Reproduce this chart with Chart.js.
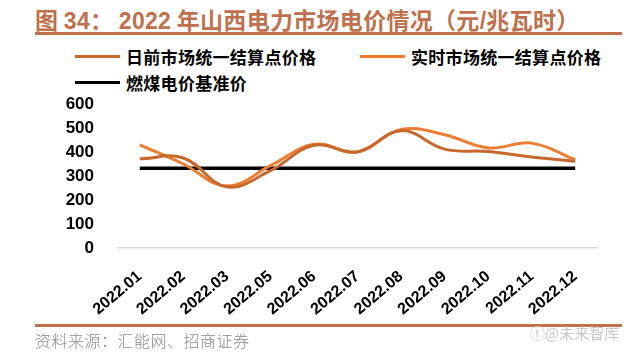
<!DOCTYPE html>
<html>
<head>
<meta charset="utf-8">
<script src="https://cdn.jsdelivr.net/npm/chart.js@4"></script>
<style>
	body { margin: 0; width: 640px; height: 352px; background: #fff; position: relative; overflow: hidden; font-family: 'Noto Sans CJK SC', sans-serif; }
	.title { position: absolute; left: 35px; top: 2px; font-size: 23px; font-weight: 700; color: #c0704c; white-space: nowrap; letter-spacing: 0.3px; }
	.title .num { font-family: 'Liberation Sans', Arial, sans-serif; }
	.rule { position: absolute; left: 35px; width: 587px; height: 3px; background: #c0704c; }
	.legend-item { position: absolute; display: flex; align-items: center; font-size: 17px; font-weight: 700; color: #000; white-space: nowrap; letter-spacing: 0.3px; }
	.legend-item .swatch { width: 45px; height: 3px; margin-right: 6px; }
	.source { position: absolute; left: 35px; top: 328px; font-size: 16px; font-weight: 300; color: #8a8a8a; letter-spacing: 0.5px; }
	.mark { position: absolute; left: 530px; top: 322px; font-size: 15px; color: #c8c8c8; }
	#wrap { position: absolute; left: 0; top: 90px; width: 640px; height: 235px; }
</style>
</head>
<body>
<div class="title">图 <span class="num">34</span>：&nbsp;<span class="num">2022</span> 年山西电力市场电价情况（元<span class="num">/</span>兆瓦时）</div>
<div class="rule" style="top: 32px;"></div>

<div id="legend"></div>

<div id="wrap"><canvas id="priceChart"></canvas></div>

<div class="rule" style="top: 324px;"></div>
<div class="source">资料来源：汇能网、招商证券</div>
<div class="mark">ⓣ@未来智库</div>

<script>
// Months shown on the x axis (no 2022.04 in the source)
const months = ['2022.01', '2022.02', '2022.03', '2022.05', '2022.06', '2022.07', '2022.08', '2022.09', '2022.10', '2022.11', '2022.12'];

// Day-ahead unified settlement price
const dayAhead = [372, 375, 255, 322, 428, 400, 489, 412, 402, 379, 361];
// Real-time unified settlement price
const realTime = [430, 350, 258, 343, 432, 401, 494, 472, 417, 437, 368];
// Coal power benchmark price
const coalBenchmark = [332, 332, 332, 332, 332, 332, 332, 332, 332, 332, 332];

const yTicks = [0, 100, 200, 300, 400, 500, 600];

const seriesNames = ['日前市场统一结算点价格', '实时市场统一结算点价格', '燃煤电价基准价'];
const seriesColors = ['#c8682c', '#ed7d31', '#000000'];

// Legend built by hand so it keeps the two-column layout
const legendPos = [
	{ left: 75, top: 44 },
	{ left: 360, top: 44 },
	{ left: 75, top: 70 },
];
const legend = document.getElementById('legend');
seriesNames.forEach((name, i) => {
	const item = document.createElement('div');
	item.className = 'legend-item';
	item.style.left = legendPos[i].left + 'px';
	item.style.top = legendPos[i].top + 'px';
	item.innerHTML = `<span class="swatch" style="background:${seriesColors[i]}"></span>${name}`;
	legend.appendChild(item);
});

const ctx = document.getElementById('priceChart').getContext('2d');
new Chart(ctx, {
	type: 'line',
	data: {
		labels: months,
		datasets: [
			{
				label: seriesNames[0],
				data: dayAhead,
				borderColor: seriesColors[0],
				borderWidth: 3,
				pointRadius: 0,
				tension: 0.4,
			},
			{
				label: seriesNames[1],
				data: realTime,
				borderColor: seriesColors[1],
				borderWidth: 3,
				pointRadius: 0,
				tension: 0.4,
			},
			{
				label: seriesNames[2],
				data: coalBenchmark,
				borderColor: seriesColors[2],
				borderWidth: 3.5,
				pointRadius: 0,
				tension: 0,
			},
		],
	},
	options: {
		responsive: true,
		maintainAspectRatio: false,
		animation: false,
		layout: { padding: { top: 14, right: 43, left: 0, bottom: 0 } },
		plugins: {
			legend: { display: false },
			tooltip: { enabled: false },
		},
		scales: {
			x: {
				offset: true,
				grid: { display: false },
				border: { display: true, color: '#d9d9d9', width: 1.5 },
				ticks: {
					color: '#000',
					font: { family: 'Liberation Sans', size: 16, weight: 'bold' },
					minRotation: 40,
					maxRotation: 40,
					padding: 11,
				},
				afterFit(scale) {
					scale.height = 77;
				},
			},
			y: {
				min: 0,
				max: 600,
				afterBuildTicks(scale) {
					scale.ticks = yTicks.map((v) => ({ value: v }));
				},
				grid: { display: false },
				border: { display: false },
				ticks: {
					color: '#000',
					autoSkip: false,
					font: { family: 'Liberation Sans', size: 17, weight: 'bold' },
					padding: 16,
				},
				afterFit(scale) {
					// keep the label gap but not its extra top/bottom padding
					scale.width = 118;
					scale.paddingTop = 0;
					scale.paddingBottom = 0;
				},
			},
		},
	},
});
</script>
</body>
</html>
